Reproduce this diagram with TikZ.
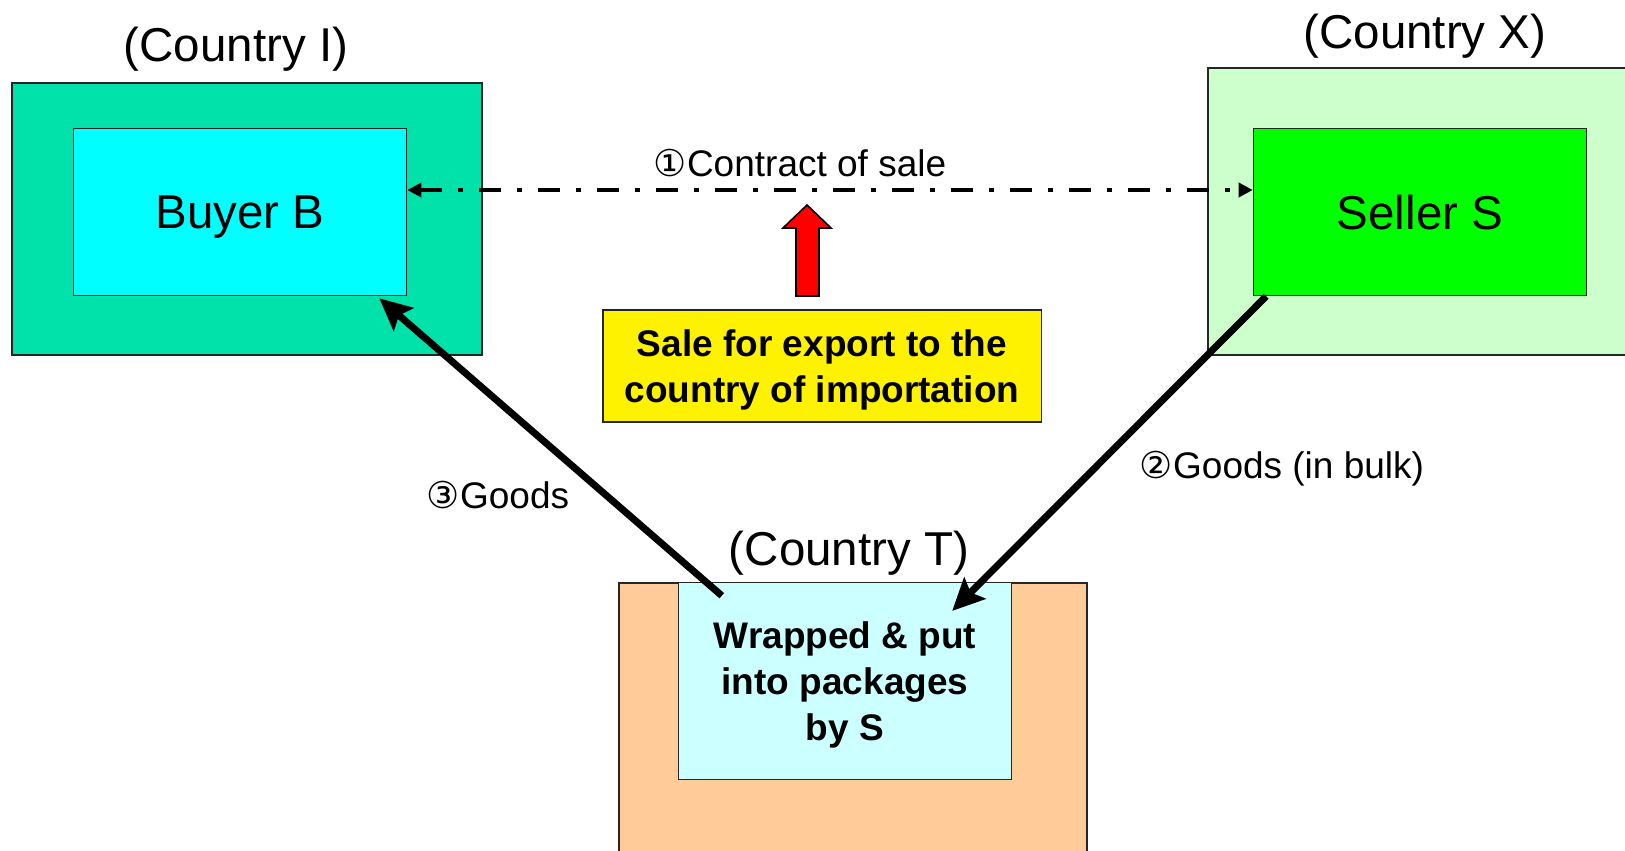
\documentclass[tikz,border=0pt]{standalone}
\usepackage{fontspec}
\setmainfont{Liberation Sans}
\newfontfamily\circfont{DejaVu Sans}
\usetikzlibrary{arrows.meta,
                positioning}
\definecolor{countryI}{RGB}{0,226,170}
\definecolor{countryX}{RGB}{204,255,204}
\definecolor{countryT}{RGB}{255,204,153}
\definecolor{buyerfill}{RGB}{0,255,255}
\definecolor{sellerfill}{RGB}{0,255,0}
\definecolor{packfill}{RGB}{204,255,255}
\tikzstyle{country} = [draw=black!85, line width=0.8pt]
\tikzstyle{party} = [draw=black!85, line width=0.8pt, minimum width=166.5pt, minimum height=83.5pt, text depth=0pt, font=\fontsize{23.75}{28}\selectfont]
\tikzstyle{tag} = [font=\fontsize{23.75}{28}\selectfont]
\tikzstyle{smalltag} = [font=\fontsize{18.5}{23}\selectfont]
\tikzstyle{boldbox} = [draw=black!85, line width=0.8pt, align=center, text depth=0pt, font=\fontsize{18.5}{23}\selectfont\bfseries]
\tikzstyle{goods} = [line width=3.5pt, -{Stealth[length=16pt,width=15pt,inset=3pt]}]
\tikzstyle{contract} = [line width=2pt, dash pattern=on 11pt off 8pt on 2.5pt off 8pt, {Triangle[length=7pt,width=7pt]}-{Triangle[length=7pt,width=7pt]}]

\begin{document}
\begin{tikzpicture}[x=0.5pt,y=-0.5pt]
\useasboundingbox (0,0) rectangle (1625,850);
\filldraw[country, fill=countryI] (12,83) rectangle (482,355);
\filldraw[country, fill=countryX] (1208,68) rectangle (1640,355);
\filldraw[country, fill=countryT] (619,583) rectangle (1087,870);
\node[party, fill=buyerfill] (buyer) at (240,212) {Buyer B};
\node[party, fill=sellerfill] (seller) at (1420,212) {Seller S};
\node[boldbox, fill=packfill, minimum width=166.4pt, minimum height=98.5pt] (pack) at (845,681) {Wrapped \& put\\into packages\\by S};
\node[boldbox, fill=yellow, minimum width=219.3pt, minimum height=55.9pt] (sale) at (822,366) {Sale for export to the\\country of importation};
\draw (236,49.5) node[tag]{(Country I)};
\draw (1425,36.5) node[tag]{(Country X)};
\draw (849,553) node[tag]{(Country T)};
\draw (800,163) node[smalltag]{{\circfont ①}Contract of sale};
\draw (1282,469) node[smalltag]{{\circfont ②}Goods (in bulk)};
\draw (498,495) node[smalltag]{{\circfont ③}Goods};
\draw[contract] ([yshift=11pt]buyer.east) -- ([yshift=11pt]seller.west);
\filldraw[fill=red, draw=black, line width=0.8pt] (807,205) -- (831,228) -- (819,228) -- (819,296) -- (796,296) -- (796,228) -- (783,228) -- cycle;
\draw[goods] ([xshift=22pt,yshift=-7pt]pack.north west) -- ([xshift=-14pt,yshift=-1pt]buyer.south east);
\draw[goods] ([xshift=6.7pt]seller.south west) -- ([xshift=-30pt,yshift=-14.6pt]pack.north east);
\end{tikzpicture}
\end{document}
